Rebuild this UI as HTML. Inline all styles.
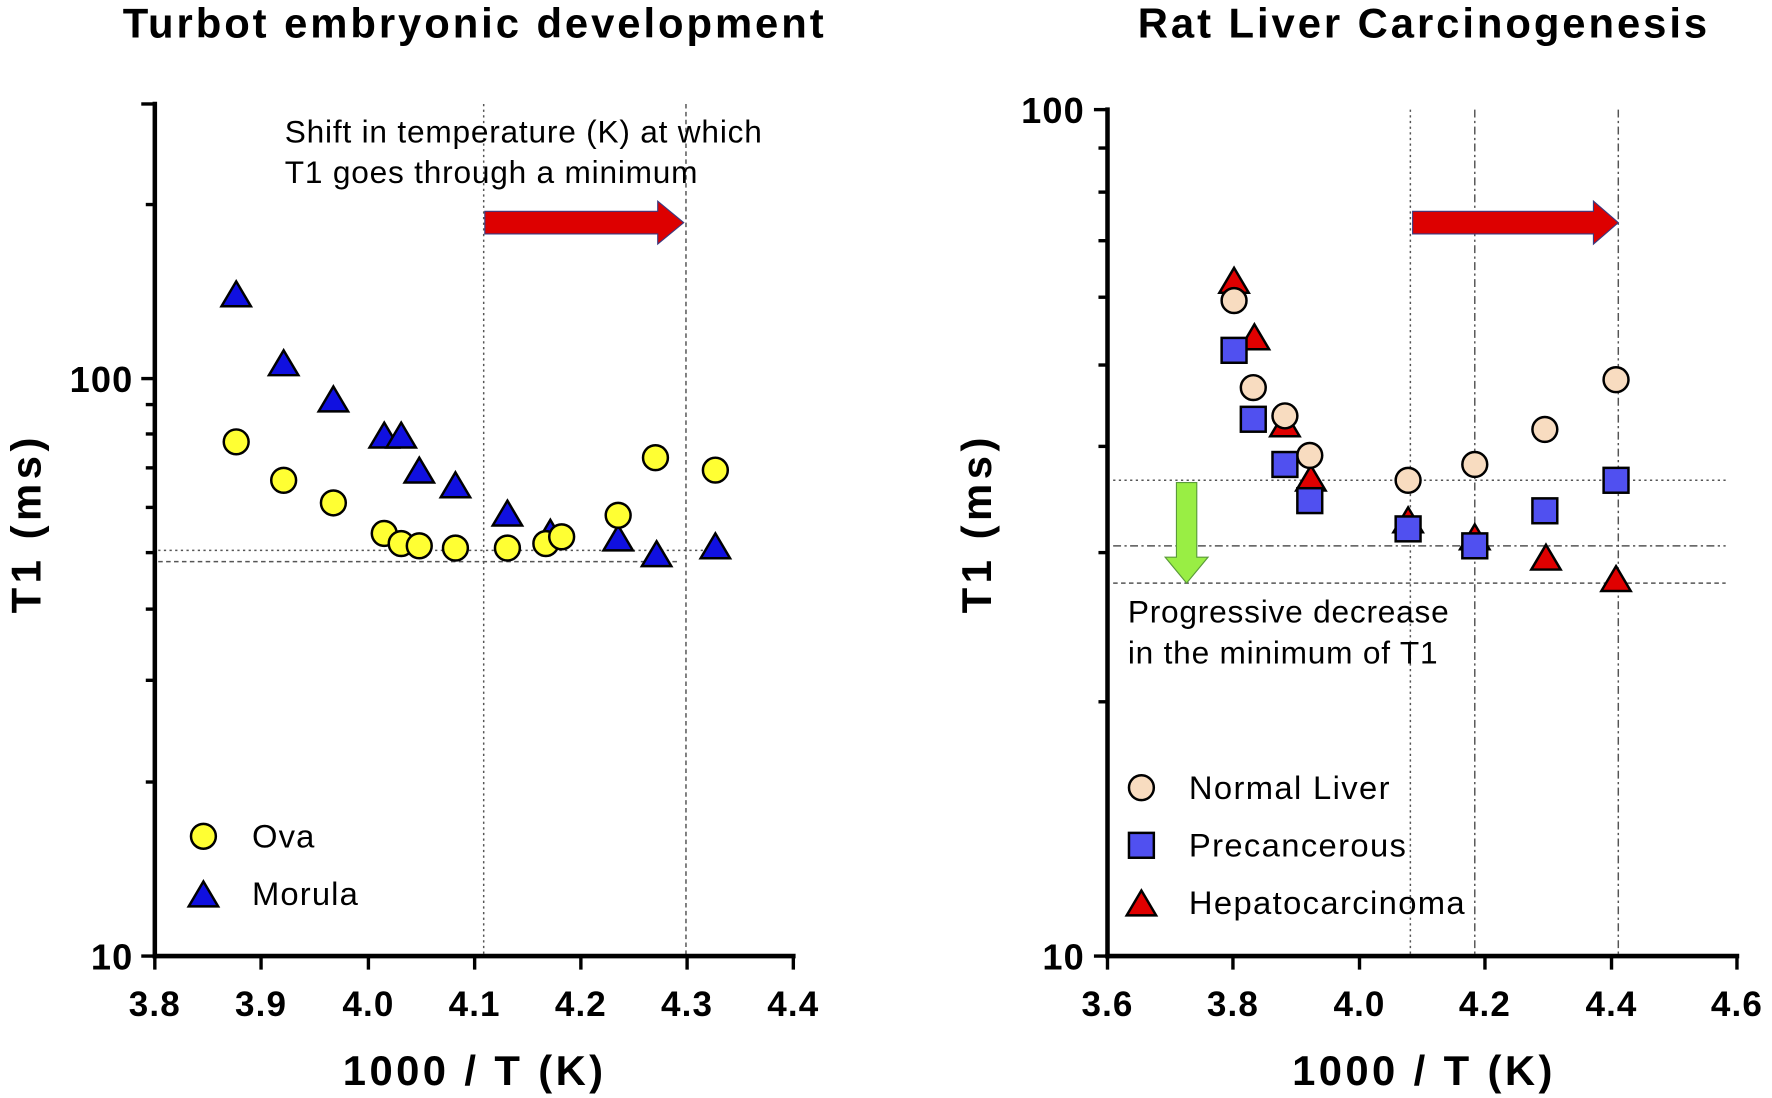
<!DOCTYPE html>
<html><head><meta charset="utf-8"><style>
html,body{margin:0;padding:0;background:#fff;width:1772px;height:1098px;overflow:hidden}
svg{display:block}
text{font-family:"Liberation Sans",Arial,sans-serif}
.b{font-weight:bold}
</style></head><body>
<svg width="1772" height="1098" viewBox="0 0 1568 971.6" xmlns="http://www.w3.org/2000/svg">
<defs>
<symbol id="c1" overflow="visible"><circle r="11" fill="#ffff33" stroke="#000" stroke-width="2.2"/></symbol>
<symbol id="t1" overflow="visible"><polygon points="0,-13 13,9 -13,9" fill="#1010e0" stroke="#000" stroke-width="2.2"/></symbol>
<symbol id="c2" overflow="visible"><circle r="11" fill="#f8dcc0" stroke="#000" stroke-width="2.2"/></symbol>
<symbol id="s2" overflow="visible"><rect x="-11" y="-11" width="22" height="22" fill="#5050f0" stroke="#000" stroke-width="2.2"/></symbol>
<symbol id="t2" overflow="visible"><polygon points="0,-13 13,9 -13,9" fill="#e00000" stroke="#000" stroke-width="2.2"/></symbol>
</defs>

<!-- LEFT -->
<text x="420" y="33" text-anchor="middle" class="b" font-size="37" letter-spacing="2.6">Turbot embryonic development</text>
<g stroke="#555" stroke-width="1.3" fill="none">
<line x1="140" y1="487" x2="640" y2="487" stroke-dasharray="2,3"/>
<line x1="140" y1="497" x2="600" y2="497" stroke-dasharray="4,3"/>
<line x1="428" y1="92" x2="428" y2="846" stroke-dasharray="2,3"/>
<line x1="607" y1="92" x2="607" y2="846" stroke-dasharray="4,3"/>
</g>
<text x="252" y="126" font-size="28" letter-spacing="0.7">Shift in temperature (K) at which</text>
<text x="252" y="162" font-size="28" letter-spacing="0.7">T1 goes through a minimum</text>
<polygon points="429,187 582,187 582,178 605,197 582,216 582,207 429,207" fill="#dd0000" stroke="#3a3a80" stroke-width="1"/>
<g stroke="#000" stroke-width="4" fill="none">
<line x1="137" y1="90" x2="137" y2="848"/>
<line x1="135" y1="846" x2="704" y2="846"/>
</g>
<g stroke="#000" stroke-width="3">
<line x1="125" y1="846" x2="137" y2="846"/><line x1="125" y1="335" x2="137" y2="335"/><line x1="125" y1="92" x2="137" y2="92"/>
<line x1="129" y1="692" x2="137" y2="692"/><line x1="129" y1="602" x2="137" y2="602"/><line x1="129" y1="539" x2="137" y2="539"/><line x1="129" y1="489" x2="137" y2="489"/><line x1="129" y1="449" x2="137" y2="449"/><line x1="129" y1="414" x2="137" y2="414"/><line x1="129" y1="384" x2="137" y2="384"/><line x1="129" y1="358" x2="137" y2="358"/><line x1="129" y1="181" x2="137" y2="181"/>
<line x1="137" y1="846" x2="137" y2="858"/><line x1="231" y1="846" x2="231" y2="858"/><line x1="326" y1="846" x2="326" y2="858"/><line x1="420" y1="846" x2="420" y2="858"/><line x1="514" y1="846" x2="514" y2="858"/><line x1="608" y1="846" x2="608" y2="858"/><line x1="702" y1="846" x2="702" y2="858"/>
</g>
<g class="b" font-size="31" text-anchor="middle" letter-spacing="1">
<text x="137" y="899">3.8</text><text x="231" y="899">3.9</text><text x="326" y="899">4.0</text><text x="420" y="899">4.1</text><text x="514" y="899">4.2</text><text x="608" y="899">4.3</text><text x="702" y="899">4.4</text>
</g>
<text x="118" y="347" class="b" font-size="32" text-anchor="end" letter-spacing="1">100</text>
<text x="118" y="858" class="b" font-size="32" text-anchor="end" letter-spacing="1">10</text>
<text x="420" y="960" class="b" font-size="37" text-anchor="middle" letter-spacing="3">1000 / T (K)</text>
<text transform="translate(36,463) rotate(-90)" class="b" font-size="37" text-anchor="middle" letter-spacing="4">T1 (ms)</text>
<g>
<use href="#t1" x="209" y="262"/><use href="#t1" x="251" y="323"/><use href="#t1" x="295" y="355"/><use href="#t1" x="340" y="387"/><use href="#t1" x="355" y="387"/><use href="#t1" x="371" y="418"/><use href="#t1" x="403" y="431"/><use href="#t1" x="449" y="456"/><use href="#t1" x="487" y="473"/><use href="#t1" x="547" y="478"/><use href="#t1" x="581" y="492"/><use href="#t1" x="633" y="485"/>
<use href="#c1" x="209" y="391"/><use href="#c1" x="251" y="425"/><use href="#c1" x="295" y="445"/><use href="#c1" x="340" y="472"/><use href="#c1" x="355" y="481"/><use href="#c1" x="371" y="483"/><use href="#c1" x="403" y="485"/><use href="#c1" x="449" y="485"/><use href="#c1" x="483" y="481"/><use href="#c1" x="497" y="475"/><use href="#c1" x="547" y="456"/><use href="#c1" x="580" y="405"/><use href="#c1" x="633" y="416"/>
</g>
<use href="#c1" x="180" y="740"/><use href="#t1" x="180" y="793"/>
<text x="223" y="750" font-size="29" letter-spacing="1">Ova</text>
<text x="223" y="801" font-size="29" letter-spacing="1">Morula</text>

<!-- RIGHT -->
<text x="1260" y="33" text-anchor="middle" class="b" font-size="37" letter-spacing="2.6">Rat Liver Carcinogenesis</text>
<g stroke="#555" stroke-width="1.3" fill="none">
<line x1="985" y1="425" x2="1527" y2="425" stroke-dasharray="2,3"/>
<line x1="985" y1="483" x2="1527" y2="483" stroke-dasharray="7,3,2,3"/>
<line x1="985" y1="516" x2="1527" y2="516" stroke-dasharray="4,3"/>
<line x1="1248" y1="97" x2="1248" y2="846" stroke-dasharray="2,3"/>
<line x1="1305" y1="97" x2="1305" y2="846" stroke-dasharray="7,3,2,3"/>
<line x1="1432" y1="97" x2="1432" y2="846" stroke-dasharray="7,3,2,3"/>
</g>
<polygon points="1250,187 1410,187 1410,178 1432,197 1410,216 1410,207 1250,207" fill="#dd0000" stroke="#3a3a80" stroke-width="1"/>
<polygon points="1041,427 1059,427 1059,493 1069,493 1050,516 1031,493 1041,493" fill="#99ee44" stroke="#5a9a3a" stroke-width="1"/>
<text x="998" y="551" font-size="28" letter-spacing="0.7">Progressive decrease</text>
<text x="998" y="587" font-size="28" letter-spacing="0.7">in the minimum of T1</text>
<g stroke="#000" stroke-width="4" fill="none">
<line x1="980" y1="95" x2="980" y2="848"/>
<line x1="978" y1="846" x2="1539" y2="846"/>
</g>
<g stroke="#000" stroke-width="3">
<line x1="968" y1="846" x2="980" y2="846"/><line x1="968" y1="97" x2="980" y2="97"/>
<line x1="972" y1="621" x2="980" y2="621"/><line x1="972" y1="489" x2="980" y2="489"/><line x1="972" y1="395" x2="980" y2="395"/><line x1="972" y1="323" x2="980" y2="323"/><line x1="972" y1="263" x2="980" y2="263"/><line x1="972" y1="213" x2="980" y2="213"/><line x1="972" y1="170" x2="980" y2="170"/><line x1="972" y1="131" x2="980" y2="131"/>
<line x1="980" y1="846" x2="980" y2="858"/><line x1="1091" y1="846" x2="1091" y2="858"/><line x1="1203" y1="846" x2="1203" y2="858"/><line x1="1314" y1="846" x2="1314" y2="858"/><line x1="1426" y1="846" x2="1426" y2="858"/><line x1="1537" y1="846" x2="1537" y2="858"/>
</g>
<g class="b" font-size="31" text-anchor="middle" letter-spacing="1">
<text x="980" y="899">3.6</text><text x="1091" y="899">3.8</text><text x="1203" y="899">4.0</text><text x="1314" y="899">4.2</text><text x="1426" y="899">4.4</text><text x="1537" y="899">4.6</text>
</g>
<text x="960" y="109" class="b" font-size="32" text-anchor="end" letter-spacing="1">100</text>
<text x="960" y="858" class="b" font-size="32" text-anchor="end" letter-spacing="1">10</text>
<text x="1260" y="960" class="b" font-size="37" text-anchor="middle" letter-spacing="3">1000 / T (K)</text>
<text transform="translate(877,463) rotate(-90)" class="b" font-size="37" text-anchor="middle" letter-spacing="4">T1 (ms)</text>
<g>
<use href="#t2" x="1092" y="250"/><use href="#t2" x="1110" y="300"/><use href="#t2" x="1137" y="377"/><use href="#t2" x="1160" y="425"/><use href="#t2" x="1246" y="462"/><use href="#t2" x="1305" y="477"/><use href="#t2" x="1368" y="495"/><use href="#t2" x="1430" y="514"/>
<use href="#c2" x="1092" y="266"/><use href="#c2" x="1109" y="343"/><use href="#c2" x="1137" y="368"/><use href="#c2" x="1159" y="403"/><use href="#c2" x="1246" y="425"/><use href="#c2" x="1305" y="411"/><use href="#c2" x="1367" y="380"/><use href="#c2" x="1430" y="336"/>
<use href="#s2" x="1092" y="310"/><use href="#s2" x="1109" y="371"/><use href="#s2" x="1137" y="411"/><use href="#s2" x="1159" y="443"/><use href="#s2" x="1246" y="468"/><use href="#s2" x="1305" y="483"/><use href="#s2" x="1367" y="452"/><use href="#s2" x="1430" y="425"/>
</g>
<use href="#c2" x="1010" y="697"/><use href="#s2" x="1010" y="748"/><use href="#t2" x="1010" y="801"/>
<text x="1052" y="707" font-size="29" letter-spacing="1.2">Normal Liver</text>
<text x="1052" y="758" font-size="29" letter-spacing="1.2">Precancerous</text>
<text x="1052" y="809" font-size="29" letter-spacing="1.2">Hepatocarcinoma</text>
</svg>
</body></html>
